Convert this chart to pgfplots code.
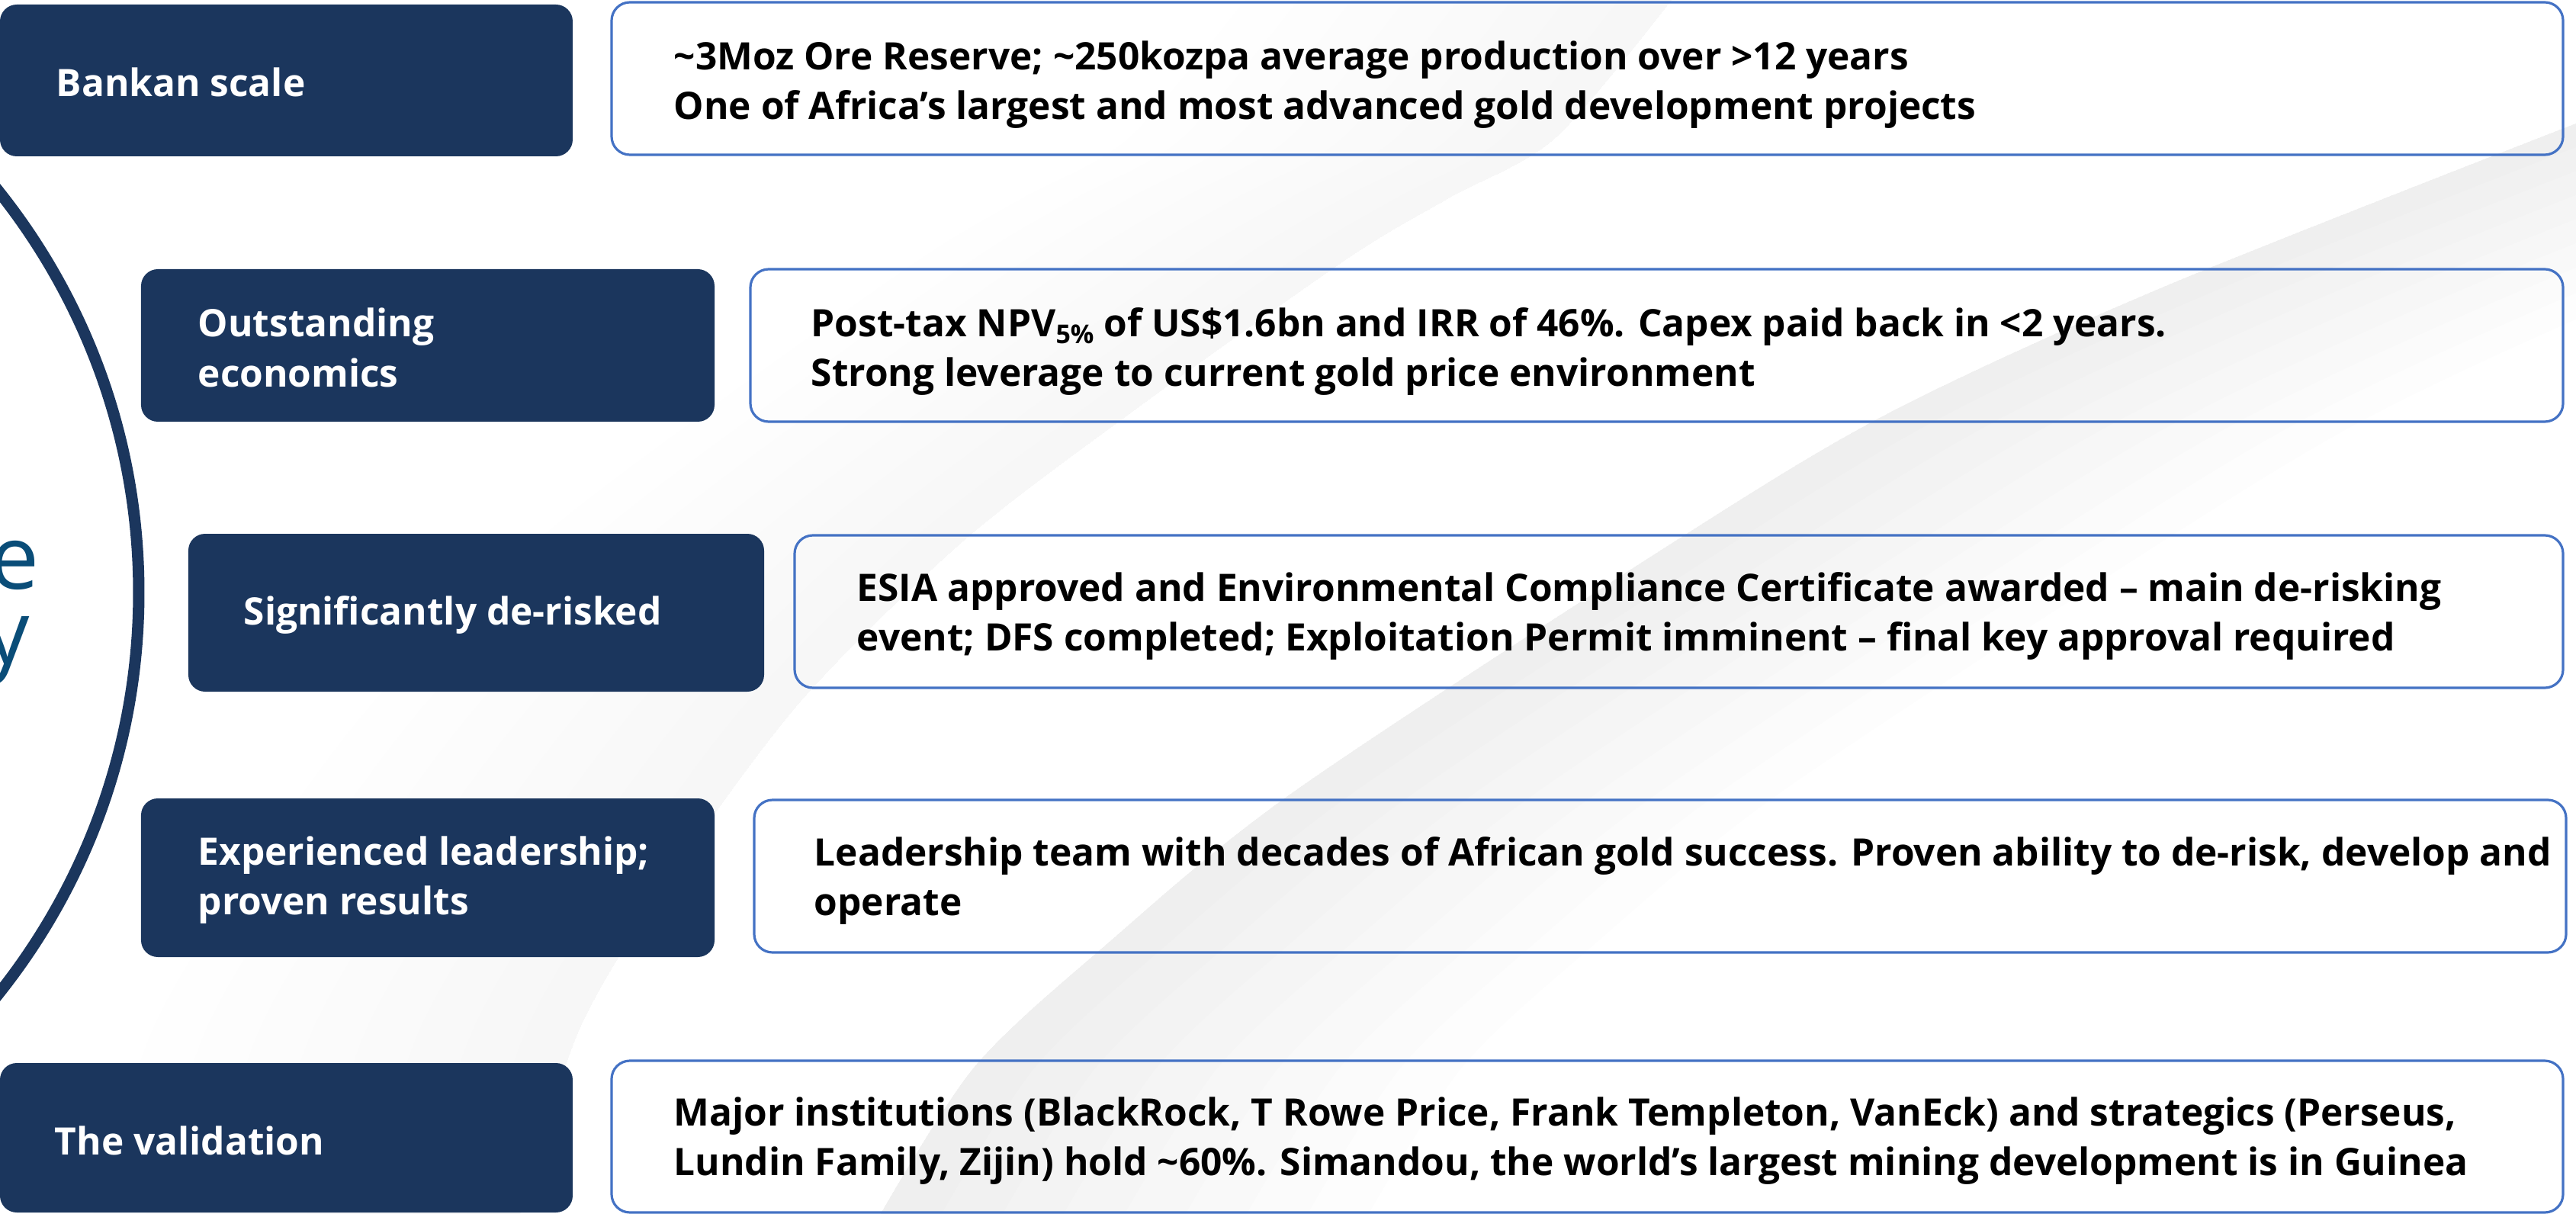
\documentclass[border=0pt]{standalone}
\usepackage{pgfplots}
\pgfplotsset{compat=1.18}
\usepackage{fontspec}
\setmainfont{Open Sans}
\definecolor{navy}{HTML}{1B365D}
\definecolor{bord}{HTML}{4472C4}
\definecolor{tealc}{HTML}{0A4D78}
\newcommand{\bx}{\bfseries\fontsize{12.4}{16.3}\selectfont}
\begin{document}
\begin{tikzpicture}
\begin{axis}[width=844.5pt,height=398pt,scale only axis,
  xmin=0,xmax=3378,ymin=0,ymax=1592,y dir=reverse,hide axis,clip=false]
\coordinate (BL) at (axis cs:0,1592);
\coordinate (TR) at (axis cs:3378,0);
% background swooshes
\pgfplotsinvokeforeach{1,...,8}{
 \fill[black,opacity=0.006] plot[smooth] coordinates {(3460,130) (2852,370) (2480,540) (2196,710) (1694,1040) (1449,1240) (1277,1400) (1150,1600)}
   -- plot[smooth] coordinates {(1150+#1*80,1600) (1277+#1*80,1400) (1449+#1*80,1240) (1694+#1*80,1040) (2196+#1*80,710) (2480+#1*80,540) (2852+#1*80,370) (3460+#1*80,130)} -- cycle;
 \fill[black,opacity=0.004] plot[smooth] coordinates {(2200,-10) (2041,180) (1900,260) (1766,340) (1485,540) (1263,710) (1050,920) (880,1150) (760,1350) (680,1600)}
   -- plot[smooth] coordinates {(680-#1*70,1600) (760-#1*70,1350) (880-#1*70,1150) (1050-#1*70,920) (1263-#1*70,710) (1485-#1*70,540) (1766-#1*70,340) (1900-#1*70,260) (2041-#1*70,180) (2200-#1*70,-10)} -- cycle;
}
% circle
\draw[navy,line width=3.75pt] (axis cs:-663,777) circle[radius=211.25pt];
\node[anchor=base east,inner sep=0pt,text=tealc,font=\fontsize{29}{29}\selectfont] at (axis cs:52,772) {e};
\node[anchor=base east,inner sep=0pt,text=tealc,font=\fontsize{29}{29}\selectfont] at (axis cs:40,870) {y};
% left boxes
\fill[navy,rounded corners=5.5pt] (axis cs:0,6) rectangle (axis cs:751,205);
\fill[navy,rounded corners=5.5pt] (axis cs:185,353) rectangle (axis cs:937,553);
\fill[navy,rounded corners=5.5pt] (axis cs:247,700) rectangle (axis cs:1002,907);
\fill[navy,rounded corners=5.5pt] (axis cs:185,1047) rectangle (axis cs:937,1255);
\fill[navy,rounded corners=5.5pt] (axis cs:0,1394) rectangle (axis cs:751,1590);
% right boxes
\draw[bord,line width=0.8pt,rounded corners=6pt] (axis cs:802,3) rectangle (axis cs:3361,203);
\draw[bord,line width=0.8pt,rounded corners=6pt] (axis cs:984,353) rectangle (axis cs:3361,553);
\draw[bord,line width=0.8pt,rounded corners=6pt] (axis cs:1042,702) rectangle (axis cs:3361,902);
\draw[bord,line width=0.8pt,rounded corners=6pt] (axis cs:989,1049) rectangle (axis cs:3365,1249);
\draw[bord,line width=0.8pt,rounded corners=6pt] (axis cs:802,1391) rectangle (axis cs:3361,1590);
% left texts
\node[anchor=west,align=left,inner sep=0pt,text=white,font=\bx] at (axis cs:73,108) {Bankan scale};
\node[anchor=west,align=left,inner sep=0pt,text=white,font=\bx] at (axis cs:259,456) {Outstanding\\economics};
\node[anchor=west,align=left,inner sep=0pt,text=white,font=\bx] at (axis cs:319,806) {Significantly de-risked};
\node[anchor=west,align=left,inner sep=0pt,text=white,font=\bx] at (axis cs:259,1154) {Experienced leadership;\\proven results};
\node[anchor=west,align=left,inner sep=0pt,text=white,font=\bx] at (axis cs:71,1496) {The validation};
% right texts
\node[anchor=west,align=left,inner sep=0pt,font=\bx] at (axis cs:883,111) {\textasciitilde3Moz Ore Reserve; \textasciitilde250kozpa average production over >12 years\\One of Africa’s largest and most advanced gold development projects};
\node[anchor=west,align=left,inner sep=0pt,font=\bx] at (axis cs:1063,461) {Post-tax NPV\raisebox{-0.35ex}{\fontsize{8.5}{8.5}\selectfont 5\%} of US\$1.6bn and IRR of 46\%. Capex paid back in <2 years.\\Strong leverage to current gold price environment};
\node[anchor=west,align=left,inner sep=0pt,font=\bx] at (axis cs:1123,808) {ESIA approved and Environmental Compliance Certificate awarded – main de-risking\\event; DFS completed; Exploitation Permit imminent – final key approval required};
\node[anchor=west,align=left,inner sep=0pt,font=\bx] at (axis cs:1067,1155) {Leadership team with decades of African gold success. Proven ability to de-risk, develop and\\operate};
\node[anchor=west,align=left,inner sep=0pt,font=\bx] at (axis cs:883,1496) {Major institutions (BlackRock, T Rowe Price, Frank Templeton, VanEck) and strategics (Perseus,\\Lundin Family, Zijin) hold \textasciitilde60\%. Simandou, the world’s largest mining development is in Guinea};
\end{axis}
\pgfresetboundingbox
\path[use as bounding box] (BL) rectangle (TR);
\end{tikzpicture}
\end{document}
